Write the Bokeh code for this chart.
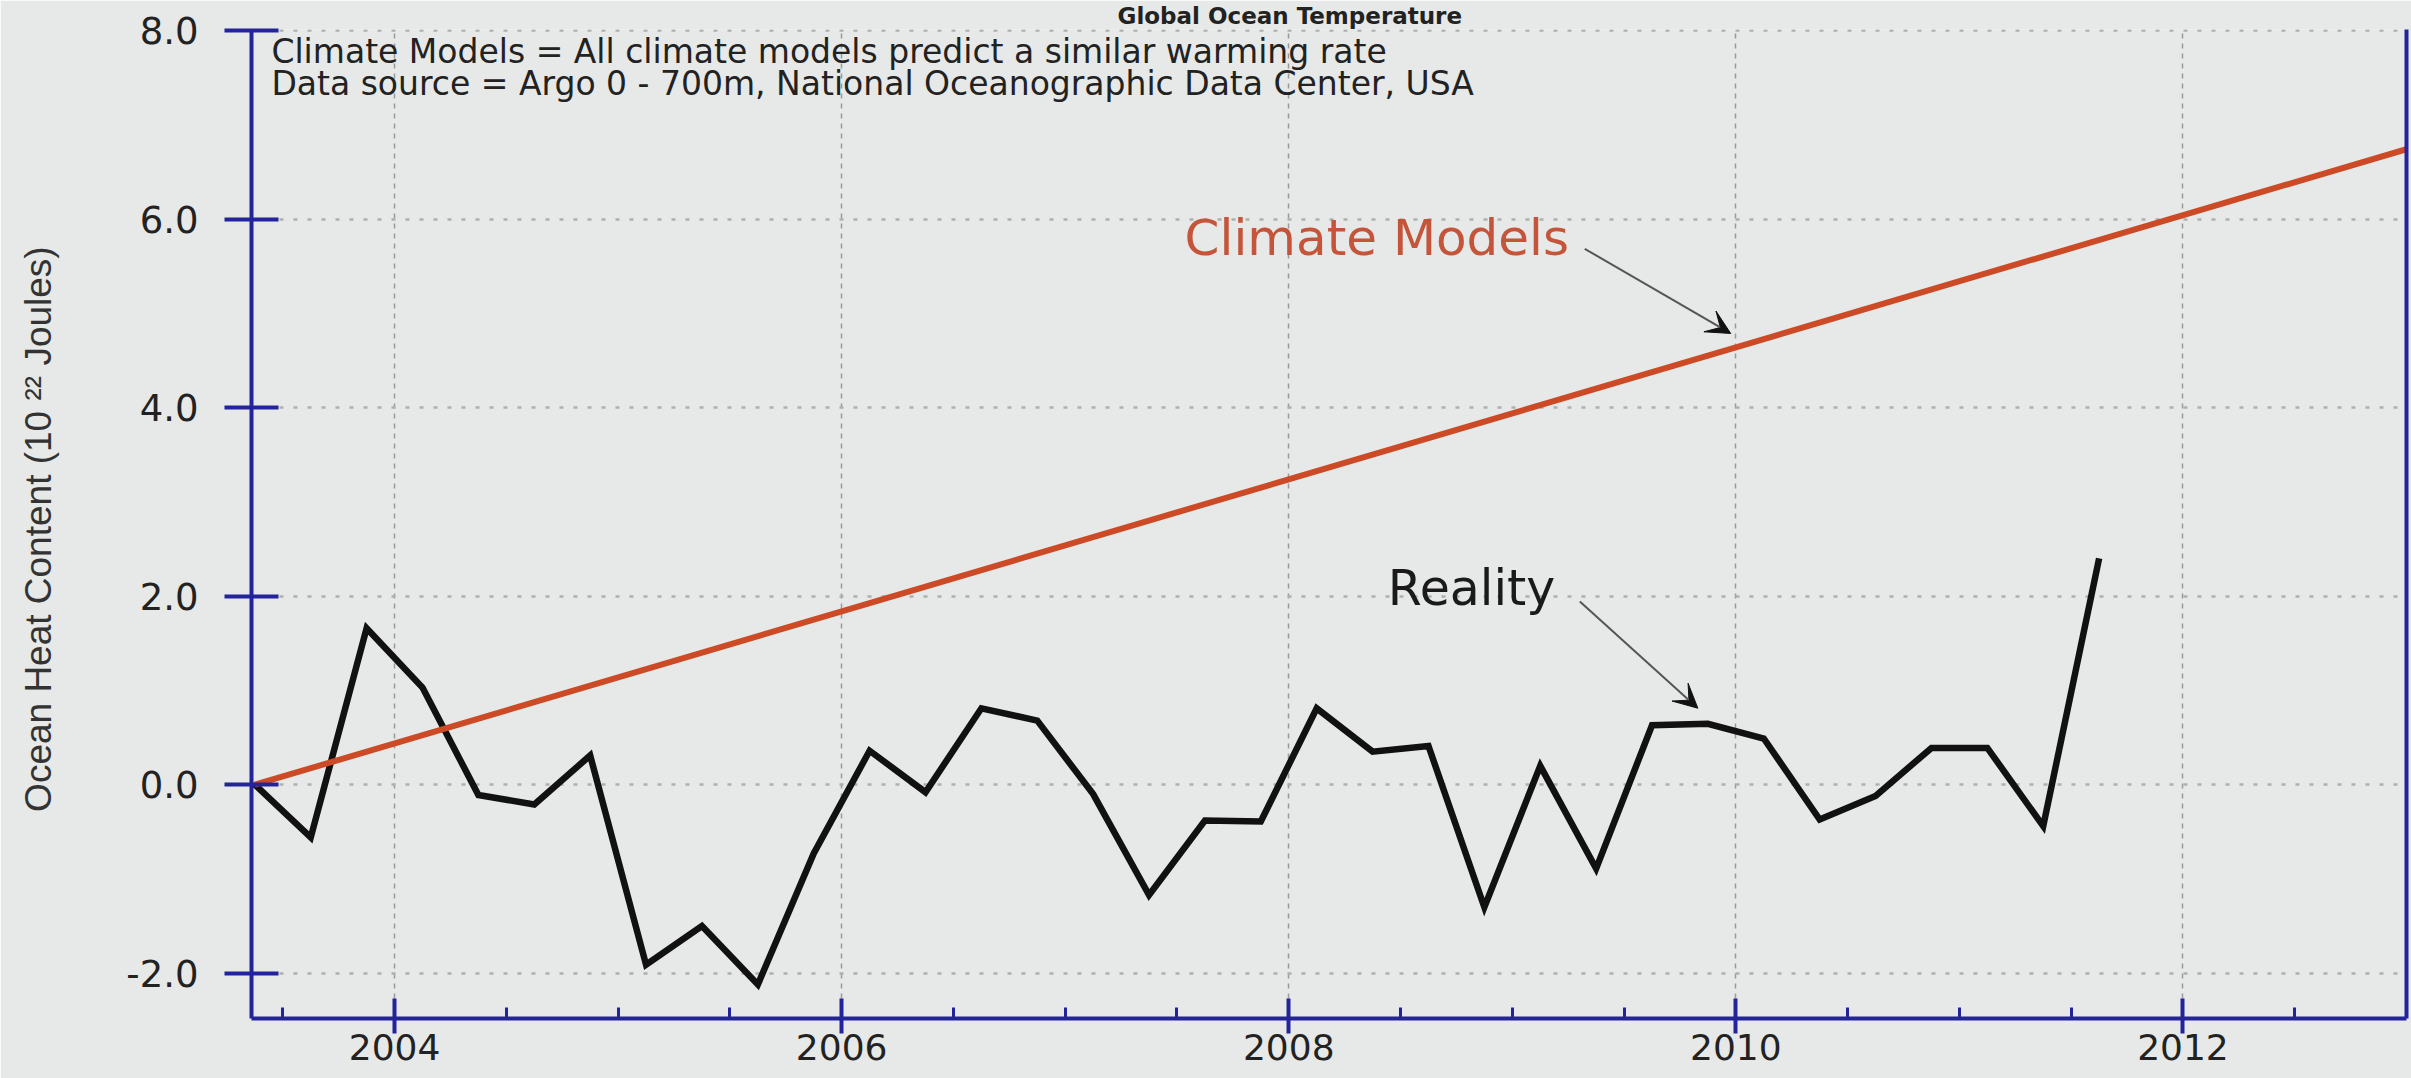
from bokeh.plotting import figure
from bokeh.models import (Range1d, FixedTicker, NumeralTickFormatter, LinearAxis,
                          Label, Arrow, VeeHead)
from bokeh.embed import file_html
from bokeh.resources import INLINE

# ---------------- data ----------------
reality_years = [2003.375, 2003.625, 2003.875, 2004.125, 2004.375, 2004.625, 2004.875,
                 2005.125, 2005.375, 2005.625, 2005.875, 2006.125, 2006.375, 2006.625,
                 2006.875, 2007.125, 2007.375, 2007.625, 2007.875, 2008.125, 2008.375,
                 2008.625, 2008.875, 2009.125, 2009.375, 2009.625, 2009.875, 2010.125,
                 2010.375, 2010.625, 2010.875, 2011.125, 2011.375, 2011.625]
reality_values = [0.00, -0.56, 1.66, 1.03, -0.11, -0.21, 0.31,
                  -1.91, -1.50, -2.12, -0.73, 0.36, -0.08, 0.81,
                  0.68, -0.10, -1.17, -0.38, -0.39, 0.81, 0.35,
                  0.41, -1.30, 0.20, -0.89, 0.63, 0.645, 0.49,
                  -0.37, -0.12, 0.39, 0.39, -0.44, 2.40]

model_years = [2003.375, 2013.0]
model_values = [0.0, 6.74]

x_major_ticks = [2004, 2006, 2008, 2010, 2012]
x_minor_ticks = [2003.5, 2004.5, 2005, 2005.5, 2006.5, 2007, 2007.5, 2008.5, 2009,
                 2009.5, 2010.5, 2011, 2011.5, 2012.5]
y_major_ticks = [-2, 0, 2, 4, 6, 8]

title_text = "Global Ocean Temperature"
note_line1 = "Climate Models = All climate models predict a similar warming rate"
note_line2 = "Data source = Argo 0 - 700m, National Oceanographic Data Center, USA"
y_label = "Ocean Heat Content  (10 \u00b2\u00b2 Joules)"

# ---------------- styling ----------------
BG = "#e6e9e7"
AXIS = "#23239c"
FONT = "DejaVu Sans"

p = figure(width=2411, height=1078, output_backend="svg", toolbar_location=None,
           x_range=Range1d(2003.36, 2013.0), y_range=Range1d(-2.48, 8.01),
           min_border_left=251, min_border_right=5, min_border_top=28,
           min_border_bottom=60,
           background_fill_color=BG, border_fill_color=BG, outline_line_color=None)

# title (the reference shows it at the very top edge)
p.title.text = title_text
p.title.text_font = FONT
p.title.text_font_style = "bold"
p.title.text_font_size = "23px"
p.title.text_color = "#222222"
p.title.align = "left"
p.title.offset = 866
p.title.standoff = 1

# bottom axis
xa = p.xaxis[0]
xa.ticker = FixedTicker(ticks=x_major_ticks, minor_ticks=x_minor_ticks)
xa.axis_line_color = AXIS
xa.axis_line_width = 4
xa.major_tick_line_color = AXIS
xa.major_tick_line_width = 4
xa.major_tick_in = 20
xa.major_tick_out = 15
xa.minor_tick_line_color = AXIS
xa.minor_tick_line_width = 3
xa.minor_tick_in = 11
xa.minor_tick_out = 0
xa.major_label_text_font = FONT
xa.major_label_text_font_size = "36px"
xa.major_label_text_color = "#222222"
xa.major_label_standoff = 0

# left axis
ya = p.yaxis[0]
ya.ticker = FixedTicker(ticks=y_major_ticks)
ya.formatter = NumeralTickFormatter(format="0.0")
ya.axis_line_color = AXIS
ya.axis_line_width = 4
ya.major_tick_line_color = AXIS
ya.major_tick_line_width = 4
ya.major_tick_in = 27
ya.major_tick_out = 27
ya.minor_tick_line_color = None
ya.major_label_text_font = FONT
ya.major_label_text_font_size = "37px"
ya.major_label_text_color = "#222222"
ya.major_label_standoff = 26
ya.axis_label = y_label
ya.axis_label_text_font = "Liberation Sans"
ya.axis_label_text_font_style = "normal"
ya.axis_label_text_font_size = "37px"
ya.axis_label_text_color = "#333333"
ya.axis_label_standoff = 64

# right border axis (line only)
ra = LinearAxis(ticker=FixedTicker(ticks=[]), major_label_text_font_size="0px",
                axis_line_color=AXIS, axis_line_width=4,
                major_tick_in=0, major_tick_out=0, minor_tick_in=0, minor_tick_out=0)
p.add_layout(ra, "right")

# grids
p.xgrid.grid_line_color = "#9a9a9a"
p.xgrid.grid_line_dash = "5 5"
p.xgrid.grid_line_width = 1.5
p.ygrid.grid_line_color = "#aeb0ae"
p.ygrid.grid_line_dash = "4 10"
p.ygrid.grid_line_width = 2.5

# data lines
p.line(reality_years, reality_values, line_color="#111111", line_width=6.5,
       line_join="miter")
p.line(model_years, model_values, line_color="#cd4a26", line_width=6)

# annotations
p.add_layout(Label(x=2003.449, y=7.777, text=note_line1, text_font=FONT,
                   text_font_size="33px", text_color="#222222",
                   text_align="left", text_baseline="middle"))
p.add_layout(Label(x=2003.449, y=7.438, text=note_line2, text_font=FONT,
                   text_font_size="33px", text_color="#222222",
                   text_align="left", text_baseline="middle"))
p.add_layout(Label(x=2007.534, y=5.80, text="Climate Models", text_font=FONT,
                   text_font_size="50px", text_color="#c4553a",
                   text_align="left", text_baseline="middle"))
p.add_layout(Label(x=2008.443, y=2.08, text="Reality", text_font=FONT,
                   text_font_size="49px", text_color="#1a1a1a",
                   text_align="left", text_baseline="middle"))

p.add_layout(Arrow(end=VeeHead(size=24, fill_color="#111111", line_color="#111111"),
                   x_start=2009.324, y_start=5.684, x_end=2009.977, y_end=4.786,
                   line_color="#555555", line_width=2))
p.add_layout(Arrow(end=VeeHead(size=24, fill_color="#111111", line_color="#111111"),
                   x_start=2009.302, y_start=1.942, x_end=2009.830, y_end=0.811,
                   line_color="#555555", line_width=2))

open("out.html", "w").write(file_html(p, INLINE))
